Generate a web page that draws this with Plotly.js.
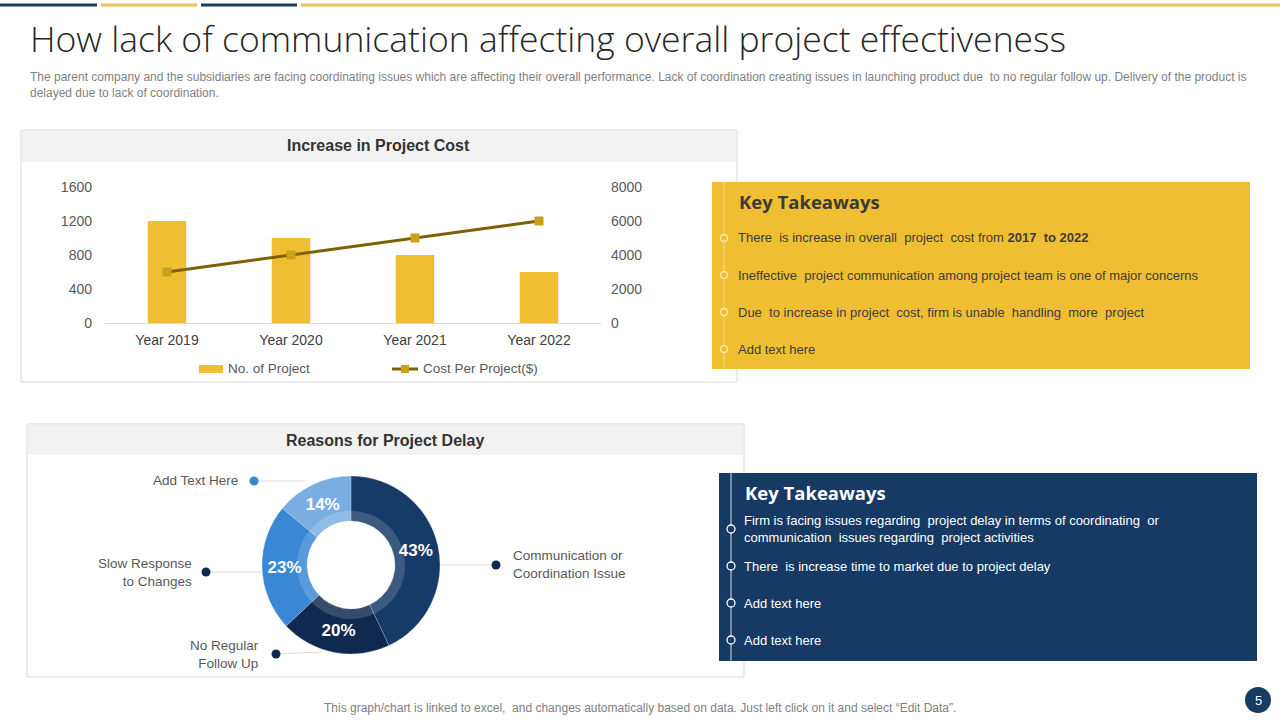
<!DOCTYPE html>
<html>
<head>
<meta charset="utf-8">
<script src="https://cdn.plot.ly/plotly-3.0.1.min.js"></script>
<style>html,body{margin:0;padding:0;background:#fff;}#chart{width:1280px;height:720px;}</style>
</head>
<body>
<div id="chart"></div>
<script>
// ---------- data ----------
const years = ["Year 2019", "Year 2020", "Year 2021", "Year 2022"];
const projectCount = [1200, 1000, 800, 600];
const costPerProject = [3000, 4000, 5000, 6000];
const leftTicks = [0, 400, 800, 1200, 1600];
const rightTicks = [0, 2000, 4000, 6000, 8000];

const delayReasons = ["Communication or Coordination Issue", "No Regular Follow Up", "Slow Response to Changes", "Add Text Here"];
const delayShares = [43, 20, 23, 14];

const yellowTakeaways = [
  "There  is increase in overall  project  cost from <b>2017  to 2022</b>",
  "Ineffective  project communication among project team is one of major concerns",
  "Due  to increase in project  cost, firm is unable  handling  more  project",
  "Add text here"
];
const navyTakeaways = [
  "Firm is facing issues regarding  project delay in terms of coordinating  or<br>communication  issues regarding  project activities",
  "There  is increase time to market due to project delay",
  "Add text here",
  "Add text here"
];

// ---------- helpers ----------
const W = 1280, H = 720;
const X = p => p / W;
const Y = p => 1 - p / H;
const NARROW = "'Liberation Sans Narrow','Arial Narrow',Arial,sans-serif";
const SANS = "'Liberation Sans',Arial,sans-serif";
const GOTHIC = "'Open Sans',Lato,sans-serif";

const shapes = [];
const annotations = [];
function rect(x0, y0, x1, y1, fill, lineColor, lw, layer) {
  shapes.push({type: 'rect', xref: 'paper', yref: 'paper', x0: X(x0), x1: X(x1), y0: Y(y1), y1: Y(y0),
    fillcolor: fill, line: {color: lineColor || 'rgba(0,0,0,0)', width: lw || 0}, layer: layer || 'below'});
}
function line(x0, y0, x1, y1, color, w, layer) {
  shapes.push({type: 'line', xref: 'paper', yref: 'paper', x0: X(x0), x1: X(x1), y0: Y(y0), y1: Y(y1),
    line: {color: color, width: w}, layer: layer || 'below'});
}
function circle(cx, cy, r, fill, lineColor, lw) {
  shapes.push({type: 'circle', xref: 'paper', yref: 'paper', x0: X(cx - r), x1: X(cx + r), y0: Y(cy + r), y1: Y(cy - r),
    fillcolor: fill, line: {color: lineColor || 'rgba(0,0,0,0)', width: lw || 0}, layer: 'above'});
}
function text(x, y, str, size, color, family, anchor, weight) {
  annotations.push({xref: 'paper', yref: 'paper', x: X(x), y: Y(y), text: str, showarrow: false,
    xanchor: anchor || 'left', yanchor: 'middle', align: anchor === 'right' ? 'right' : (anchor === 'center' ? 'center' : 'left'),
    borderpad: 0, font: {size: size, color: color, family: family, weight: weight || 'normal'}});
}

// ---------- top decoration ----------
line(0, 5, 97, 5, '#1b3a5e', 3);
line(101, 5, 197, 5, '#e9c25a', 3);
line(201, 5, 297, 5, '#1b3a5e', 3);
line(301, 5, 1280, 5, '#e9c25a', 3);

// title + subtitle
text(29, 38, "How lack of communication affecting overall project effectiveness", 35.5, '#262626', GOTHIC, 'left', 300);
text(29, 84.5, "The parent company and the subsidiaries are facing coordinating issues which are affecting their overall performance. Lack of coordination creating issues in launching product due  to no regular follow up. Delivery of the product is<br>delayed due to lack of coordination.", 12, '#7f7f7f', NARROW, 'left');

// ---------- panel 1 ----------
rect(21, 130, 737, 382, '#ffffff', '#d9d9d9', 1);
rect(22, 131, 736, 162, '#f2f2f2');
text(378, 146, "Increase in Project Cost", 16, '#333333', NARROW, 'center', 'bold');
// manual legend
rect(199, 365, 223, 373, '#f0be32');
text(227, 369, "No. of Project", 13.5, '#595959', NARROW, 'left');
line(392, 369, 418, 369, '#7f6000', 3, 'above');
rect(401, 365, 409, 373, '#c9a21a', null, 0, 'above');
text(422, 369, "Cost Per Project($)", 13.5, '#595959', NARROW, 'left');

// ---------- yellow takeaways ----------
rect(712, 182, 1250, 369, '#f0be32');
line(724, 182, 724, 369, '#f6d67c', 1.2);
text(738, 201, "Key Takeaways", 18.5, '#3a3a3a', GOTHIC, 'left', 'bold');
const yRows = [238, 275, 312, 349];
yellowTakeaways.forEach((t, i) => {
  circle(724, yRows[i], 3.5, '#f0be32', '#fbe7a6', 1.5);
  text(737, yRows[i], t, 13, '#3d3d3d', NARROW, 'left');
});

// ---------- panel 2 ----------
rect(27, 424, 744, 677, '#ffffff', '#d9d9d9', 1);
rect(28, 425, 743, 455, '#f2f2f2');
text(385, 440, "Reasons for Project Delay", 16, '#333333', NARROW, 'center', 'bold');

// donut leader lines + dots + labels
line(254, 481, 305, 481, '#d9d9d9', 1);
circle(254, 481, 4.5, '#3a87d6');
text(239, 481, delayReasons[3], 13.5, '#595959', NARROW, 'right');

line(206, 572, 262, 572, '#d9d9d9', 1);
circle(206, 572, 4.5, '#0f2a4e');
text(193, 572, "Slow Response<br>to Changes", 13.5, '#595959', NARROW, 'right');

line(276, 654, 322, 652, '#d9d9d9', 1);
circle(276, 654, 4.5, '#0f2a4e');
text(260, 654, "No Regular<br>Follow Up", 13.5, '#595959', NARROW, 'right');

line(440, 565, 496, 565, '#d9d9d9', 1);
circle(496, 565, 4.5, '#0f2a4e');
text(512, 564, "Communication or<br>Coordination Issue", 13.5, '#595959', NARROW, 'left');

// ---------- navy takeaways ----------
rect(719, 473, 1257, 661, '#163a63');
line(731, 473, 731, 661, '#b9c4d4', 1.2);
text(744, 492, "Key Takeaways", 18.5, '#ffffff', GOTHIC, 'left', 'bold');
const nRows = [529, 566, 603, 640];
navyTakeaways.forEach((t, i) => {
  circle(731, nRows[i], 4, '#163a63', '#ffffff', 1.3);
  text(743, nRows[i], t, 13, '#ffffff', NARROW, 'left');
});

// ---------- footer ----------
text(640, 708, "This graph/chart is linked to excel,  and changes automatically based on data. Just left click on it and select “Edit Data”.", 12, '#7f7f7f', NARROW, 'center');
circle(1258, 700, 13, '#173b63');
text(1258, 700, "5", 13, '#ffffff', SANS, 'center');

// ---------- traces ----------
const barTrace = {
  type: 'bar', x: years, y: projectCount, name: 'No. of Project',
  marker: {color: '#f0be32'}, width: 0.31, xaxis: 'x', yaxis: 'y', showlegend: false, hoverinfo: 'x+y'
};
const lineTrace = {
  type: 'scatter', mode: 'lines+markers', x: years, y: costPerProject, name: 'Cost Per Project($)',
  line: {color: '#7f6000', width: 3}, marker: {symbol: 'square', size: 9, color: '#c9a21a'},
  xaxis: 'x', yaxis: 'y2', showlegend: false
};
const donut = {
  type: 'pie', labels: delayReasons, values: delayShares, hole: 0.494, sort: false, direction: 'clockwise', rotation: 0,
  domain: {x: [X(262), X(440)], y: [Y(654), Y(476)]},
  marker: {colors: ['#173b68', '#0f2a4e', '#3a87d6', '#7aaee3'], line: {color: 'rgba(255,255,255,0.35)', width: 0.6}},
  texttemplate: '%{value}%', textposition: 'inside', insidetextorientation: 'horizontal',
  textfont: {color: '#ffffff', size: 17, family: SANS, weight: 'bold'},
  showlegend: false, hoverinfo: 'label+percent'
};
const innerRing = {
  type: 'pie', labels: ['ring'], values: [1], hole: 0.815, sort: false,
  domain: {x: [X(297), X(405)], y: [Y(619), Y(511)]},
  marker: {colors: ['rgba(255,255,255,0.16)'], line: {width: 0}},
  textinfo: 'none', hoverinfo: 'skip', showlegend: false
};

const layout = {
  width: W, height: H, autosize: false,
  margin: {l: 0, r: 0, t: 0, b: 0, pad: 0},
  paper_bgcolor: '#ffffff', plot_bgcolor: 'rgba(0,0,0,0)',
  showlegend: false,
  xaxis: {domain: [X(105), X(601)], anchor: 'y', type: 'category', range: [-0.5, 3.5],
    showgrid: false, zeroline: false, showline: true, linecolor: '#d9d9d9', linewidth: 1,
    ticks: '', tickfont: {size: 14, color: '#404040', family: NARROW}, ticklabelstandoff: 4, fixedrange: true},
  yaxis: {domain: [Y(323), Y(187)], anchor: 'x', range: [0, 1600], tickvals: leftTicks, ticktext: leftTicks.map(String),
    showgrid: false, zeroline: false, showline: false, ticks: '',
    tickfont: {size: 14, color: '#595959', family: NARROW}, ticklabelstandoff: 12, fixedrange: true},
  yaxis2: {overlaying: 'y', side: 'right', anchor: 'x', range: [0, 8000], tickvals: rightTicks, ticktext: rightTicks.map(String),
    showgrid: false, zeroline: false, showline: false, ticks: '',
    tickfont: {size: 14, color: '#595959', family: NARROW}, ticklabelstandoff: 9, fixedrange: true},
  shapes: shapes,
  annotations: annotations
};

Plotly.newPlot('chart', [barTrace, lineTrace, donut, innerRing], layout, {displayModeBar: false, staticPlot: true});
</script>
</body>
</html>
